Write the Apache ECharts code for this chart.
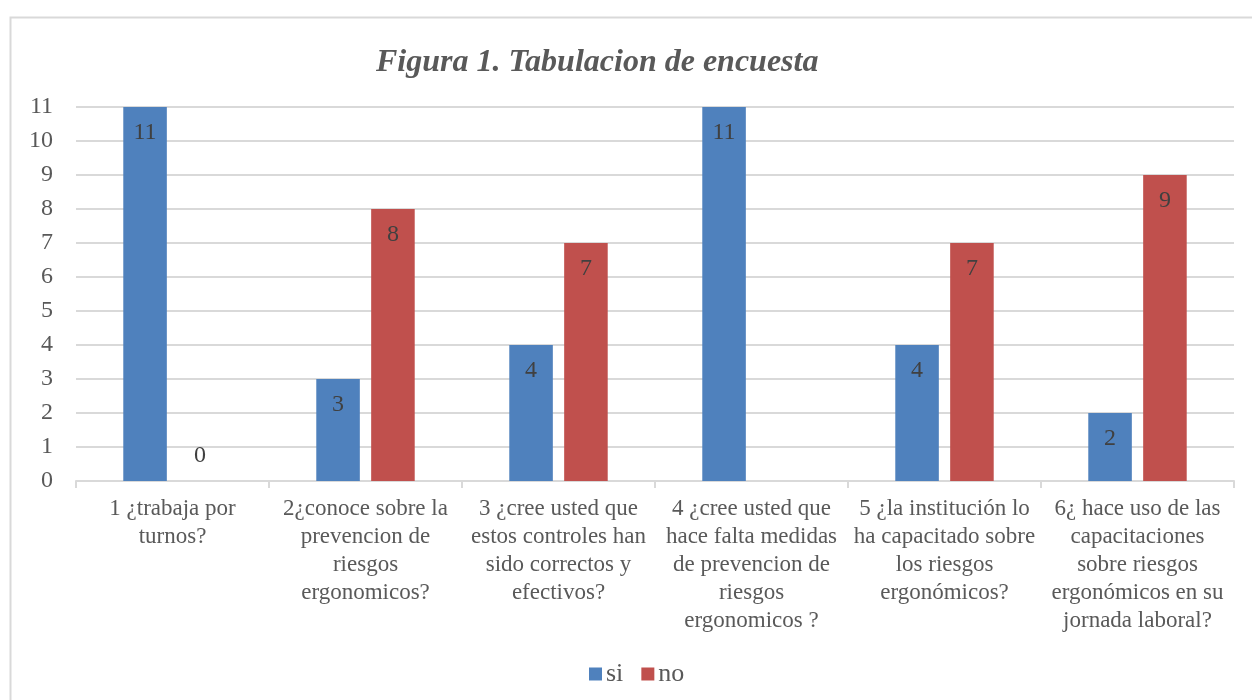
<!DOCTYPE html>
<html>
<head>
<meta charset="utf-8">
<script src="https://cdn.jsdelivr.net/npm/echarts@6/dist/echarts.min.js"></script>
<style>
  html, body { margin: 0; padding: 0; background: #fff; }
  #chart { width: 1252px; height: 700px; }
</style>
</head>
<body>
<div id="chart"></div>
<script>
const categories = [
  '1 ¿trabaja por\nturnos?',
  '2¿conoce sobre la\nprevencion de\nriesgos\nergonomicos?',
  '3 ¿cree usted que\nestos controles han\nsido correctos y\nefectivos?',
  '4 ¿cree usted que\nhace falta medidas\nde prevencion de\nriesgos\nergonomicos ?',
  '5 ¿la institución lo\nha capacitado sobre\nlos riesgos\nergonómicos?',
  '6¿ hace uso de las\ncapacitaciones\nsobre riesgos\nergonómicos en su\njornada laboral?'
]
const siValues = [11, 3, 4, 11, 4, 2]
const noValues = [0, 8, 7, null, 7, 9]

const serif = '"Liberation Serif", "DejaVu Serif", serif'

// Excel pone la etiqueta del 0 encima del eje; el resto va dentro del extremo
function withLabels(values) {
  return values.map((v) =>
    v === 0
      ? { value: v, label: { position: 'top', distance: 13 } }
      : v
  )
}

const chart = echarts.init(document.getElementById('chart'), null, { renderer: 'canvas' })

chart.setOption({
  animation: false,
  textStyle: { fontFamily: serif },
  graphic: [
    {
      type: 'rect',
      shape: { x: 10.5, y: 17.5, width: 1400, height: 900 },
      style: { fill: 'none', stroke: '#d9d9d9', lineWidth: 2 },
      silent: true
    }
  ],
  title: {
    text: 'Figura 1. Tabulacion de encuesta',
    left: 371,
    top: 42,
    textStyle: {
      fontFamily: serif,
      fontStyle: 'italic',
      fontWeight: 'bold',
      fontSize: 32,
      color: '#595959'
    }
  },
  legend: {
    data: ['si', 'no'],
    top: 656,
    left: 584,
    itemWidth: 13,
    itemHeight: 13,
    itemGap: 18,
    icon: 'rect',
    textStyle: { fontFamily: serif, fontSize: 26, color: '#595959', padding: [0, 0, 0, -1] }
  },
  grid: { left: 76, right: 18, top: 107, bottom: 219, containLabel: false },
  xAxis: {
    type: 'category',
    data: categories,
    axisLine: { lineStyle: { color: '#d9d9d9', width: 2 } },
    axisTick: { show: true, length: 7, lineStyle: { color: '#d9d9d9', width: 2 } },
    axisLabel: {
      interval: 0,
      margin: 14,
      fontFamily: serif,
      fontSize: 23,
      lineHeight: 28,
      color: '#595959',
      align: 'center'
    }
  },
  yAxis: {
    type: 'value',
    min: 0,
    max: 11,
    interval: 1,
    axisLine: { show: false },
    axisTick: { show: false },
    axisLabel: { margin: 23, fontFamily: serif, fontSize: 24, color: '#595959' },
    splitLine: { lineStyle: { color: '#d9d9d9', width: 2 } }
  },
  series: [
    {
      name: 'si',
      type: 'bar',
      data: withLabels(siValues),
      barGap: '26%',
      barCategoryGap: '49%',
      itemStyle: { color: '#4F81BD' },
      label: {
        show: true,
        position: 'insideTop',
        distance: 14,
        fontFamily: serif,
        fontSize: 24,
        color: '#404040'
      }
    },
    {
      name: 'no',
      type: 'bar',
      data: withLabels(noValues),
      barGap: '26%',
      barCategoryGap: '49%',
      itemStyle: { color: '#C0504D' },
      label: {
        show: true,
        position: 'insideTop',
        distance: 14,
        fontFamily: serif,
        fontSize: 24,
        color: '#404040'
      }
    }
  ]
})
</script>
</body>
</html>
